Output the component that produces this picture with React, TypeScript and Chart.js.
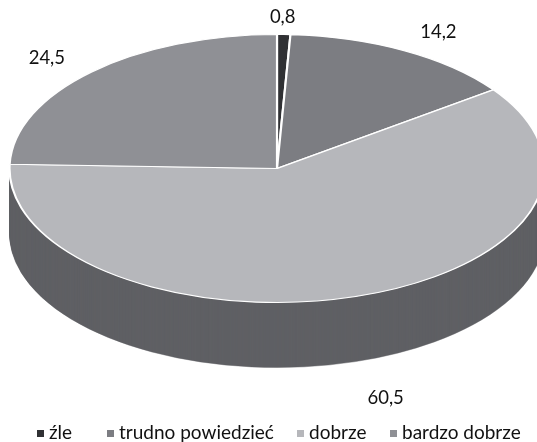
import React, { useEffect, useRef } from "react";
import { Chart, registerables } from "chart.js";

Chart.register(...registerables);

const categories = ["źle", "trudno powiedzieć", "dobrze", "bardzo dobrze"];
const values = [0.8, 14.2, 60.5, 24.5];
const valueLabels = ["0,8", "14,2", "60,5", "24,5"];
const topColors = ["#303134", "#7c7d82", "#b6b7bb", "#8f9095"];
const sideColors = ["#5f6064", "#5f6064", "#5f6064", "#5f6064"];

const FONT = "Lato, Carlito, sans-serif";
const CX = 277;
const CY = 168.5;
const RX = 267.5;
const RY = 134;
const DEPTH = 65;
const LABEL_OFFSETS = [
  [-1, -18],
  [34, -19],
  [30, 101],
  [-44, -14],
];
const LEGEND_X = [37, 107, 297, 390];
const LEGEND_Y = 433;

const tilt = {
  id: "tilt",
  beforeDatasetsDraw(chart: any) {
    const ctx = chart.ctx;
    const arcs = chart.getDatasetMeta(0).data;
    const a = arcs[0];
    const sx = RX / a.outerRadius;
    const sy = RY / a.outerRadius;
    ctx.save();
    ctx.translate(CX, CY);
    ctx.scale(sx, sy);
    ctx.translate(-a.x, -a.y);
    // extruded side: the same arcs drawn repeatedly, lower and darker
    for (let d = DEPTH; d > 0; d -= 1) {
      ctx.save();
      ctx.translate(0, d / sy);
      arcs.forEach((arc: any, i: number) => {
        const saved = arc.options;
        arc.options = { ...saved, backgroundColor: sideColors[i], borderColor: sideColors[i], borderWidth: 0.5 };
        arc.draw(ctx);
        arc.options = saved;
      });
      ctx.restore();
    }
  },
  afterDatasetsDraw(chart: any) {
    const ctx = chart.ctx;
    ctx.restore();
    const arcs = chart.getDatasetMeta(0).data;
    ctx.save();
    ctx.fillStyle = "#111111";
    ctx.font = `18.5px ${FONT}`;
    ctx.textBaseline = "middle";
    ctx.textAlign = "center";
    arcs.forEach((arc: any, i: number) => {
      const mid = (arc.startAngle + arc.endAngle) / 2;
      const x = CX + RX * Math.cos(mid) + LABEL_OFFSETS[i][0];
      const y = CY + RY * Math.sin(mid) + LABEL_OFFSETS[i][1];
      ctx.fillText(valueLabels[i], x, y);
    });
    ctx.textAlign = "left";
    ctx.font = `19px ${FONT}`;
    categories.forEach((name, i) => {
      ctx.fillStyle = topColors[i];
      ctx.fillRect(LEGEND_X[i], LEGEND_Y - 3, 7, 7);
      ctx.fillStyle = "#111111";
      ctx.fillText(name, LEGEND_X[i] + 12, LEGEND_Y);
    });
    ctx.restore();
  },
};

export default function App() {
  const ref = useRef<HTMLCanvasElement>(null);
  useEffect(() => {
    document.body.style.margin = "0";
    const chart = new Chart(ref.current!, {
      type: "pie",
      data: {
        labels: categories,
        datasets: [
          {
            data: values,
            backgroundColor: topColors,
            borderColor: "#ffffff",
            borderWidth: 1.8,
            clip: false,
          } as any,
        ],
      },
      options: {
        responsive: false,
        animation: false,
        layout: { padding: 0 },
        plugins: { legend: { display: false }, tooltip: { enabled: false } },
      },
      plugins: [tilt],
    });
    return () => chart.destroy();
  }, []);
  return <canvas ref={ref} width={537} height={442} style={{ display: "block" }} />;
}
